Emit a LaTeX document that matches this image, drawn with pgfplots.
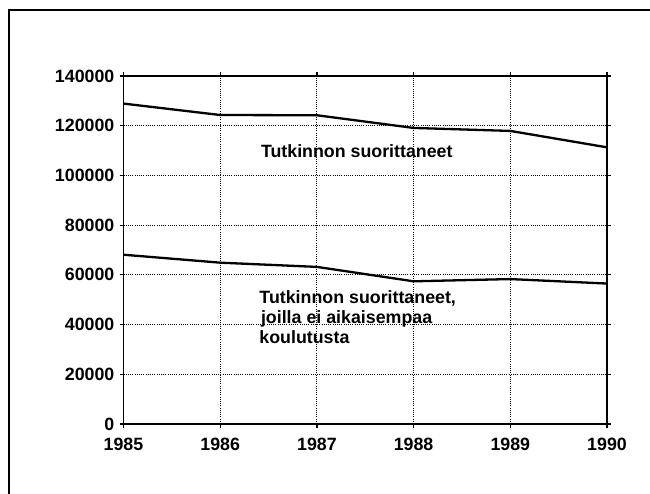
\documentclass[border=0pt]{standalone}
\usepackage{pgfplots}
\pgfplotsset{compat=1.18}
\usepackage{fontspec}
\setmainfont{Liberation Sans}
\begin{document}
\fontsize{17.8bp}{19.8bp}\selectfont\bfseries
\begin{tikzpicture}[x=1bp,y=1bp]
\useasboundingbox (0,0) rectangle (650,494);
\draw[line width=1.8bp] (9,-5) -- (9,484) -- (655,484);
\begin{axis}[
  at={(123.5bp,70bp)}, anchor=south west,
  scale only axis, width=483.5bp, height=348bp,
  xmin=1985, xmax=1990, ymin=0, ymax=140000,
  xtick={1985,1986,1987,1988,1989,1990},
  xticklabels={1985,1986,1987,1988,1989,1990},
  ytick={0,20000,40000,60000,80000,100000,120000,140000},
  yticklabels={0,20000,40000,60000,80000,100000,120000,140000},
  scaled y ticks=false,
  xticklabel style={yshift=-4bp, font=\fontsize{17.8bp}{19.8bp}\selectfont\bfseries},
  yticklabel style={xshift=1bp, font=\fontsize{17.8bp}{19.8bp}\selectfont\bfseries},
  tick align=outside,
  major tick length=4bp,
  tick style={black, line width=1.2bp},
  axis line style={line width=1.4bp},
  grid=major,
  major grid style={black, line width=0.9bp, dash pattern=on 1bp off 1.2bp},
]
\addplot[black, line width=2.3bp, line join=round] coordinates {
  (1985,128900) (1986,124300) (1987,124200) (1988,119100) (1989,117900) (1990,111300)
};
\addplot[black, line width=2.3bp, line join=round] coordinates {
  (1985,68100) (1986,64900) (1987,63200) (1988,57400) (1989,58300) (1990,56500)
};
\node[anchor=base west, inner sep=0pt] at (axis cs:1986.42,107300) {Tutkinnon suorittaneet};
\node[anchor=base west, inner sep=0pt] at (axis cs:1986.404,48400) {Tutkinnon suorittaneet,};
\node[anchor=base west, inner sep=0pt] at (axis cs:1986.42,40500) {joilla ei aikaisempaa};
\node[anchor=base west, inner sep=0pt] at (axis cs:1986.404,32500) {koulutusta};
\end{axis}
\end{tikzpicture}
\end{document}
